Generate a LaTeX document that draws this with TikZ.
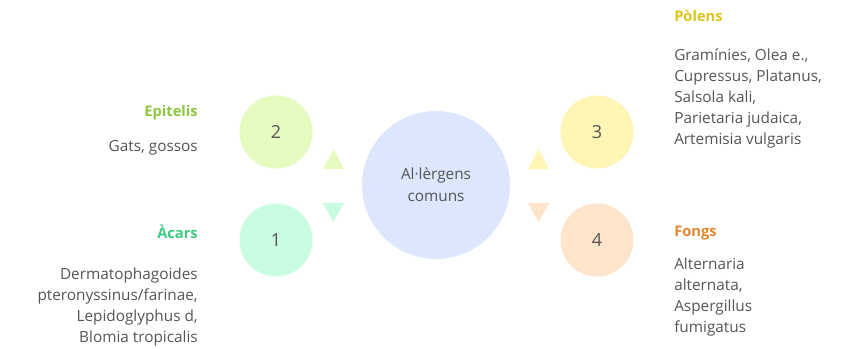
\documentclass[tikz,border=0pt]{standalone}
\usepackage{fontspec}
\setmainfont{Open Sans}
\usepackage{xcolor}
\usepackage{tikz}
\usetikzlibrary{shapes, positioning}

\definecolor{centrebg}{HTML}{DCE7FD}
\definecolor{epibg}{HTML}{E6FBC0}
\definecolor{acabg}{HTML}{C9FBE3}
\definecolor{polbg}{HTML}{FFF5B5}
\definecolor{fonbg}{HTML}{FFE4CC}
\definecolor{epitxt}{HTML}{8EC63F}
\definecolor{acatxt}{HTML}{3DCB82}
\definecolor{poltxt}{HTML}{DCC41A}
\definecolor{fontxt}{HTML}{E5862F}
\definecolor{bodytxt}{HTML}{555555}

\begin{document}
\begin{tikzpicture}[x=0.75pt, y=-0.75pt,
    bubble/.style={circle, minimum size=54.75pt, inner sep=0pt, font=\fontsize{13.5}{16}\selectfont, text=bodytxt},
    title/.style={font=\bfseries\fontsize{11}{12}\selectfont, inner sep=0pt},
    body/.style={font=\fontsize{11.5}{15.75}\selectfont, text=bodytxt, inner sep=0pt}]
    \useasboundingbox (0,0) rectangle (846,349);

    % centre
    \node[circle, fill=centrebg, minimum size=111pt, inner sep=0pt, align=center,
          font=\fontsize{11.5}{16.5}\selectfont, text=bodytxt] (centre) at (436,185) {Al·lèrgens\\comuns};

    % numbered bubbles
    \node[bubble, fill=epibg] (b2) at (276,132) {2};
    \node[bubble, fill=acabg] (b1) at (276,240) {1};
    \node[bubble, fill=polbg] (b3) at (597,132) {3};
    \node[bubble, fill=fonbg] (b4) at (597,240) {4};

    % small pointers
    \fill[epibg] (323,169) -- (344,169) -- (333.5,149) -- cycle;
    \fill[acabg] (323,203) -- (344,203) -- (333.5,222) -- cycle;
    \fill[polbg] (528,169) -- (549,169) -- (538.5,149) -- cycle;
    \fill[fonbg] (528,203) -- (549,203) -- (538.5,222) -- cycle;

    % left side
    \node[title, text=epitxt, anchor=east] (epi) at (198,113) {Epitelis};
    \node[body, anchor=north east, align=right] (epibody) at (198,140) {Gats, gossos};

    \node[title, text=acatxt, anchor=east] (aca) at (198,232) {Àcars};
    \node[body, anchor=north east, align=right] (acabody) at (198,268) {Dermatophagoides\\pteronyssinus/farinae,\\Lepidoglyphus d,\\Blomia tropicalis};

    % right side
    \node[title, text=poltxt, anchor=west] (pol) at (674,16) {Pòlens};
    \node[body, anchor=north west, align=left] (polbody) at (674,48) {Gramínies, Olea e.,\\Cupressus, Platanus,\\Salsola kali,\\Parietaria judaica,\\Artemisia vulgaris};

    \node[title, text=fontxt, anchor=west] (fon) at (674,233) {Fongs};
    \node[body, anchor=north west, align=left] (fonbody) at (674,258) {Alternaria\\alternata,\\Aspergillus\\fumigatus};
\end{tikzpicture}
\end{document}
